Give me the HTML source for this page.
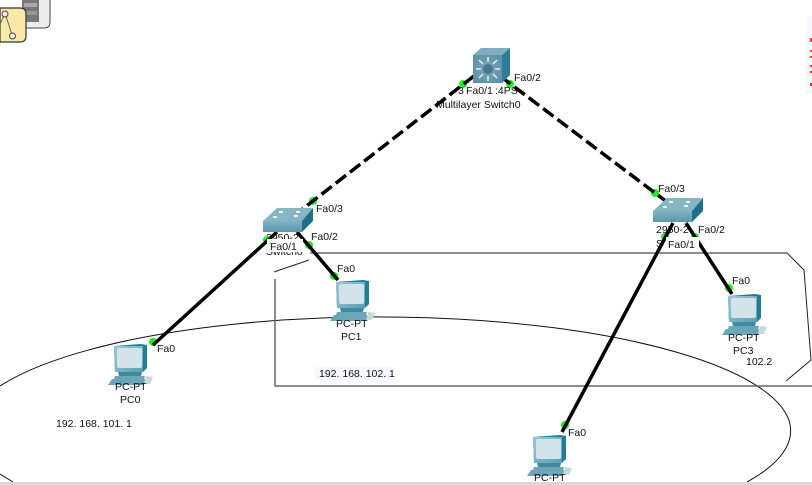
<!DOCTYPE html>
<html><head><meta charset="utf-8">
<style>
html,body{margin:0;padding:0;background:#fff;width:812px;height:485px;overflow:hidden}
svg{display:block;overflow:hidden}
text{font-family:"Liberation Sans",sans-serif;font-size:10.5px;fill:#111}
</style></head><body>
<svg width="812" height="485" viewBox="0 0 812 485" xmlns="http://www.w3.org/2000/svg">
<defs>
<linearGradient id="mon" x1="0" y1="0" x2="1" y2="1"><stop offset="0" stop-color="#9cc8d6"/><stop offset="1" stop-color="#5a9fb3"/></linearGradient>
<linearGradient id="sw" x1="0" y1="0" x2="0" y2="1"><stop offset="0" stop-color="#7fb3c4"/><stop offset="1" stop-color="#5a97ab"/></linearGradient>
<radialGradient id="ml" cx="0.5" cy="0.5" r="0.7"><stop offset="0" stop-color="#7aa6b8"/><stop offset="1" stop-color="#5a8ea3"/></radialGradient>
<g id="pc">
<path d="M6 2 L33 0 L39 1 L39 24 L35 28 L7 28 Z" fill="#1f7f95"/>
<path d="M6 2 L35 2 L35 28 L7 28 Z" fill="url(#mon)"/>
<rect x="9" y="4" width="25" height="20" rx="2" fill="#d4e3ea"/>
<path d="M10 28 L34 28 L33 32 L11 32 Z" fill="#3f8a9e"/>
<path d="M7 32 L37 32 L36 35 L6 35 Z" fill="#6aa6b8"/>
<path d="M38 32 L45 33 L42 40 L36 40 Z" fill="#c5d8df"/>
<path d="M0 41 L36 41 L37 35 L4 35 Z" fill="#6aa6b8"/>
</g>
<g id="sw2">
<path d="M0 13 L14 0 L50 0 L39 13 Z" fill="#86b5c4"/>
<rect x="0" y="13" width="39" height="11" fill="url(#sw)"/>
<path d="M39 13 L50 0 L50 13 L39 24 Z" fill="#1d7088"/>
<g fill="#e8f2f5"><rect x="16" y="3" width="4" height="2"/><rect x="33" y="3" width="4" height="2"/><rect x="10" y="8" width="4" height="2"/><rect x="31" y="7" width="4" height="2"/></g>
</g>
</defs>

<!-- top-left tool icon -->
<path d="M11 -2 H50 V22 Q50 28 44 28 H26 V-2 Z" fill="#ececec" stroke="#444" stroke-width="1"/>
<rect x="22" y="0" width="17" height="22" fill="#777"/>
<rect x="24" y="3" width="13" height="4" fill="#aaa"/><rect x="24" y="11" width="13" height="4" fill="#999"/>
<path d="M0 8 H20 Q26 8 26 14 V36 Q26 42 20 42 H0 Z" fill="#fbe9a8" stroke="#333" stroke-width="1.200"/>
<path d="M5 14 L0 24 M6 16 L12 35" stroke="#666" stroke-width="1" fill="none"/>
<circle cx="5" cy="14" r="3" fill="#eee" stroke="#444"/><circle cx="12.500" cy="36" r="3" fill="#eee" stroke="#444"/>

<!-- annotations -->
<path d="M0 386 A412 114 0 1 1 747 482" fill="none" stroke="#111" stroke-width="1"/>
<path d="M0 474 L13 482" fill="none" stroke="#111" stroke-width="1"/>
<path d="M275 279 V386 H812" fill="none" stroke="#666" stroke-width="1.500"/>
<path d="M310 253 H787 L804 270 L811 360 L786 381" fill="none" stroke="#222" stroke-width="1"/>
<line x1="274" y1="272" x2="309" y2="260" stroke="#222" stroke-width="1"/>
<rect x="0" y="482" width="812" height="3" fill="#d8d8d8"/>
<rect x="806" y="16" width="6" height="78" fill="#f6f7ff"/>
<g fill="#f23b1e"><rect x="810" y="38" width="2" height="4"/><rect x="810" y="50" width="2" height="2"/><rect x="810" y="56" width="2" height="2"/><rect x="810" y="65" width="2" height="2"/><rect x="810" y="71" width="2" height="2"/><rect x="810" y="83" width="2" height="3"/></g>

<!-- port dots -->
<g fill="#19f01c">
<circle cx="463" cy="84" r="4"/><circle cx="510" cy="84" r="4"/>
<circle cx="313" cy="201" r="4"/><circle cx="267" cy="240" r="4"/><circle cx="309" cy="245" r="4"/><circle cx="334" cy="276" r="4"/>
<circle cx="153" cy="342" r="4"/>
<circle cx="655" cy="193" r="4"/><circle cx="665" cy="237" r="4"/><circle cx="695" cy="237" r="4"/><circle cx="729" cy="288" r="4"/>
<circle cx="565" cy="425" r="4"/>
</g>

<!-- links -->
<g stroke="#000" stroke-width="3.500" fill="none">
<line x1="474" y1="76" x2="300" y2="211" stroke-dasharray="13 5"/>
<line x1="500" y1="76" x2="667" y2="202" stroke-dasharray="13 5"/>
<line x1="277" y1="232" x2="153" y2="345"/>
<line x1="297" y1="232" x2="338" y2="280"/>
<line x1="673" y1="223" x2="562" y2="432"/>
<line x1="686" y1="223" x2="732" y2="294"/>
</g>

<!-- devices -->
<path d="M473 55 L481 48 L510 48 L502 55 Z" fill="#7eaebf"/>
<path d="M502 55 L510 48 L510 75 L502 83 Z" fill="#2f7c94"/>
<rect x="473" y="55" width="29" height="28" fill="url(#ml)"/>
<g stroke="#e3eef2" stroke-width="1.500"><path d="M488 57 V62 M488 76 V81 M476 69 H481 M495 69 H500 M479 60 L483 64 M493 74 L497 78 M497 60 L493 64 M483 74 L479 78"/></g>
<circle cx="488" cy="69" r="5" fill="#47788f"/>
<use href="#sw2" x="263" y="208"/>
<use href="#sw2" x="653" y="198"/>
<use href="#pc" x="108" y="344"/>
<use href="#pc" x="330" y="280"/>
<use href="#pc" x="527" y="435"/>
<use href="#pc" x="722" y="294"/>

<!-- labels -->
<text x="458" y="94">3</text>
<text x="466" y="94">Fa0/1</text><text x="495" y="94">:4PS</text>
<text x="514" y="81">Fa0/2</text>
<text x="436" y="108" font-size="11.500">Multilayer Switch0</text>

<text x="316" y="212">Fa0/3</text>
<text x="266" y="241">2950-2</text>
<text x="311" y="240">Fa0/2</text>
<text x="266" y="255">Switch0</text>
<rect x="267" y="239" width="36" height="13" fill="#fff"/>
<text x="270" y="250">Fa0/1</text>
<text x="337" y="272">Fa0</text>
<text x="336" y="327">PC-PT</text>
<text x="341" y="340">PC1</text>
<rect x="315" y="367" width="77" height="13" fill="#f6f7ff"/>
<text x="319" y="377" font-size="10">192. 168. 102. 1</text>

<text x="157" y="352">Fa0</text>
<text x="115" y="390">PC-PT</text>
<text x="120" y="403">PC0</text>
<text x="56" y="427" font-size="10">192. 168. 101. 1</text>

<text x="658" y="192">Fa0/3</text>
<text x="656" y="233">2950-2</text>
<text x="698" y="233">Fa0/2</text>
<text x="656" y="247">S</text>
<rect x="666" y="237" width="33" height="13" fill="#fff"/>
<text x="668" y="248">Fa0/1</text>
<text x="732" y="284">Fa0</text>
<text x="728" y="341">PC-PT</text>
<text x="733" y="354">PC3</text>
<text x="746" y="365">102.2</text>

<text x="568" y="436">Fa0</text>
<text x="534" y="481">PC-PT</text>
</svg>
</body></html>
